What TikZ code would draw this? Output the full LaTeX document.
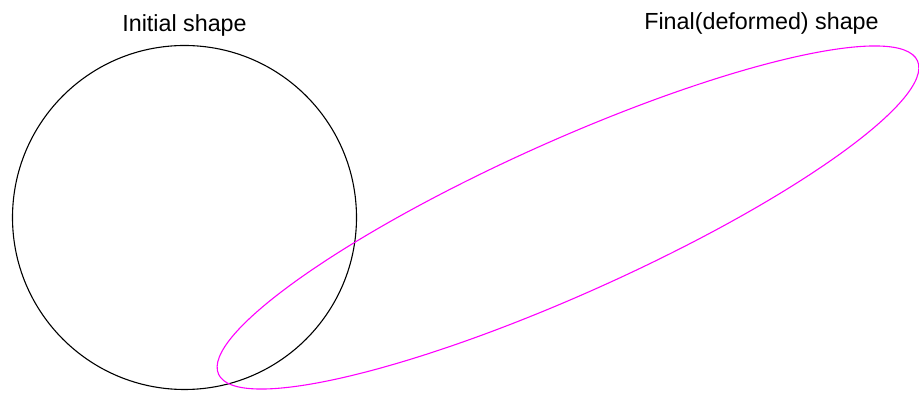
\documentclass[tikz,border=0pt]{standalone}
\usepackage{fontspec}
\setmainfont{Liberation Sans}
\definecolor{puremag}{RGB}{255,0,255}
\begin{document}
\begin{tikzpicture}[x=1pt,y=1pt,
  lbl/.style={font=\fontsize{23.3}{28}\selectfont, inner sep=0pt, anchor=base},
  shapeline/.style={line width=1.1pt}]
\useasboundingbox (0,0) rectangle (919,393);
% initial circle
\draw[shapeline, black] (184.5,175.5) circle[radius=172];
% final deformed ellipse
\draw[shapeline, puremag] (568,175.5) ellipse[x radius=383, y radius=76.4, rotate=24.15];
% labels
\node[lbl] (initlbl) at (184.5,361.5) {Initial shape};
\node[lbl] (finallbl) at (761.5,363.5) {Final(deformed) shape};
\end{tikzpicture}
\end{document}
